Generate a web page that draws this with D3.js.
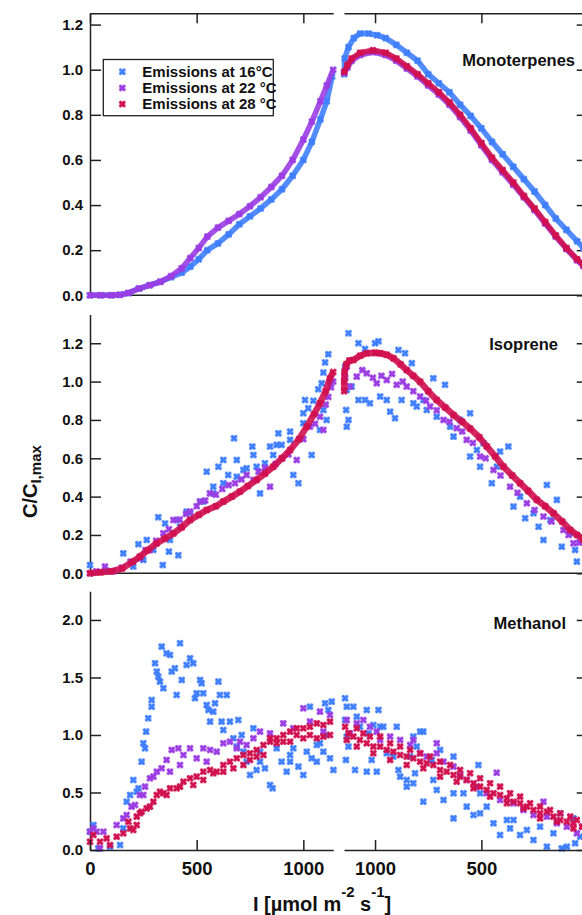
<!DOCTYPE html>
<html>
<head>
<meta charset="utf-8">
<script src="https://cdn.jsdelivr.net/npm/d3@7"></script>
<style>
  body { margin: 0; background: #fff; }
  text { font-family: "Liberation Sans", Arial, sans-serif; font-weight: bold; fill: #111; }
</style>
</head>
<body>
<div id="chart"></div>
<script>
// ---- data : [light intensity I, normalised emission C/C_I,max] ----
var seriesNames = ["Emissions at 16°C", "Emissions at 22 °C", "Emissions at 28 °C"];
var seriesColors = ["#3f7fff", "#9b3de3", "#d0104f"];

var panelNames = ["Monoterpenes", "Isoprene", "Methanol"];
var monoTicks = [0, 0.2, 0.4, 0.6, 0.8, 1.0, 1.2];
var isoTicks = [0, 0.2, 0.4, 0.6, 0.8, 1.0, 1.2];
var methTicks = [0, 0.5, 1.0, 1.5, 2.0];
var xTicksUp = [0, 500, 1000];
var xTicksDown = [1000, 500];

// Monoterpenes, light rising
var monoUp16 = [[0,0],[50,0],[100,0],[140,0.002],[180,0.01],[230,0.03],[280,0.045],[330,0.06],[380,0.08],[430,0.1],[470,0.127],[510,0.16],[550,0.2],[600,0.23],[650,0.27],[700,0.315],[750,0.35],[800,0.385],[850,0.425],[900,0.47],[950,0.53],[1000,0.6],[1040,0.68],[1080,0.78],[1110,0.86],[1135,0.97]];
var monoUp22 = [[0,0],[50,0],[100,0],[140,0.002],[180,0.01],[230,0.03],[280,0.045],[330,0.06],[380,0.085],[430,0.12],[470,0.165],[510,0.21],[550,0.26],[600,0.3],[650,0.33],[700,0.36],[750,0.395],[800,0.435],[850,0.48],[900,0.53],[950,0.6],[1000,0.69],[1040,0.77],[1080,0.86],[1110,0.93],[1140,1.0]];
// Monoterpenes, light falling
var monoDown16 = [[1145,0.98],[1143,1.05],[1125,1.1],[1100,1.14],[1070,1.16],[1030,1.16],[990,1.153],[950,1.14],[900,1.11],[850,1.075],[800,1.04],[750,0.98],[700,0.94],[650,0.9],[600,0.845],[550,0.795],[500,0.74],[450,0.68],[400,0.625],[350,0.57],[300,0.515],[250,0.46],[200,0.4],[150,0.34],[100,0.29],[50,0.24],[20,0.21]];
var monoDown22 = [[1145,0.985],[1130,1.01],[1110,1.04],[1070,1.065],[1010,1.078],[950,1.065],[900,1.04],[850,1.005],[800,0.97],[750,0.93],[700,0.89],[650,0.845],[600,0.79],[550,0.73],[500,0.665],[450,0.6],[400,0.545],[350,0.49],[300,0.435],[250,0.378],[200,0.318],[150,0.26],[100,0.205],[50,0.155],[20,0.13]];
var monoDown28 = [[1145,0.99],[1130,1.02],[1110,1.05],[1070,1.075],[1010,1.086],[950,1.075],[900,1.05],[850,1.015],[800,0.98],[750,0.94],[700,0.9],[650,0.855],[600,0.8],[550,0.74],[500,0.675],[450,0.61],[400,0.555],[350,0.5],[300,0.44],[250,0.385],[200,0.325],[150,0.265],[100,0.21],[50,0.16],[20,0.135]];

// Isoprene, light rising
var isoUp16 = [[0,0.043],[78,0.013],[156,0.104],[203,0.035],[227,0.152],[250,0.07],[266,0.174],[297,0.122],[320,0.292],[341,0.043],[352,0.26],[370,0.113],[375,0.174],[406,0.278],[414,0.094],[422,0.243],[453,0.322],[469,0.313],[516,0.374],[531,0.374],[547,0.53],[578,0.452],[578,0.417],[602,0.556],[625,0.591],[625,0.47],[648,0.513],[675,0.704],[688,0.591],[688,0.504],[719,0.539],[734,0.548],[761,0.661],[766,0.617],[781,0.556],[797,0.417],[820,0.574],[844,0.661],[859,0.617],[875,0.67],[883,0.73],[898,0.67],[938,0.739],[938,0.696],[953,0.513],[977,0.47],[1000,0.835],[1000,0.783],[1008,0.904],[1023,0.861],[1039,0.617],[1047,0.9],[1070,0.96],[1078,0.748],[1086,0.991],[1094,1.047],[1094,0.852],[1102,1.1],[1109,0.8],[1117,1.143],[1125,1.0]];
var isoUp22 = [[0,0.0],[30,0.01],[70,0.035],[110,0.01],[150,0.03],[190,0.06],[234,0.078],[260,0.12],[281,0.122],[310,0.17],[344,0.209],[370,0.23],[391,0.278],[420,0.28],[450,0.31],[469,0.322],[500,0.35],[516,0.374],[540,0.38],[562,0.417],[590,0.41],[620,0.44],[650,0.46],[680,0.47],[710,0.49],[734,0.513],[766,0.487],[790,0.53],[820,0.55],[844,0.452],[870,0.57],[900,0.6],[930,0.62],[969,0.591],[1000,0.7],[1031,0.765],[1055,0.78],[1078,0.817],[1094,0.748],[1105,0.88],[1117,0.92],[1130,0.97],[1140,1.0]];
var isoUp28 = [[0,0.0],[50,0.005],[100,0.01],[150,0.025],[200,0.06],[234,0.087],[270,0.12],[312,0.156],[350,0.18],[391,0.208],[430,0.24],[469,0.278],[510,0.305],[547,0.33],[590,0.35],[625,0.374],[665,0.4],[703,0.426],[740,0.455],[781,0.487],[820,0.52],[859,0.556],[900,0.6],[938,0.643],[980,0.7],[1016,0.765],[1050,0.83],[1078,0.887],[1105,0.95],[1125,1.017],[1140,1.05]];
// Isoprene, light falling
var isoDown16 = [[1125,1.252],[1141,1.078],[1133,0.956],[1125,0.8],[1133,0.765],[1136,0.852],[1110,0.974],[1078,1.2],[1047,1.17],[1000,1.2],[984,1.21],[1078,0.904],[1047,0.904],[1024,0.887],[976,0.922],[945,0.904],[929,0.843],[906,0.809],[890,1.165],[859,1.148],[875,0.904],[827,1.096],[820,0.887],[804,0.87],[757,0.852],[726,1.017],[773,0.904],[710,0.817],[671,0.983],[647,0.765],[631,0.713],[600,0.8],[553,0.835],[553,0.609],[521,0.643],[506,0.556],[490,0.678],[451,0.47],[427,0.556],[412,0.635],[373,0.661],[349,0.348],[318,0.4],[294,0.287],[255,0.313],[231,0.243],[208,0.174],[192,0.461],[176,0.278],[145,0.383],[122,0.139],[82,0.209],[59,0.122],[51,0.061]];
var isoDown22 = [[1140,1.02],[1133,1.078],[1118,0.974],[1086,1.026],[1060,1.06],[1039,1.043],[1010,1.02],[992,0.991],[970,1.03],[945,1.008],[920,1.04],[898,0.983],[870,1.0],[851,0.974],[820,0.95],[788,0.922],[760,0.9],[741,0.87],[710,0.85],[678,0.8],[650,0.79],[616,0.757],[590,0.74],[569,0.696],[540,0.68],[506,0.609],[480,0.6],[443,0.539],[410,0.51],[365,0.452],[330,0.42],[286,0.365],[250,0.33],[208,0.296],[170,0.27],[114,0.226],[90,0.2],[67,0.157],[40,0.16]];
var isoDown28 = [[1145,0.95],[1145,1.0],[1143,1.05],[1135,1.09],[1120,1.11],[1102,1.113],[1070,1.135],[1039,1.148],[1000,1.15],[976,1.148],[945,1.14],[914,1.122],[880,1.09],[851,1.06],[820,1.03],[788,0.999],[750,0.95],[710,0.904],[670,0.865],[631,0.826],[590,0.79],[553,0.755],[510,0.71],[474,0.661],[435,0.61],[396,0.556],[355,0.51],[318,0.47],[280,0.43],[239,0.383],[200,0.35],[161,0.313],[120,0.27],[82,0.226],[50,0.2],[20,0.175]];

// Methanol, light rising
var methUp16 = [[16,0.217],[0,0.159],[39,0.014],[94,0.029],[141,0.043],[156,0.188],[172,0.42],[188,0.478],[203,0.609],[227,0.536],[219,0.507],[242,0.768],[250,0.928],[258,0.884],[263,1.029],[273,1.145],[289,1.246],[289,1.304],[305,1.623],[313,1.551],[320,1.507],[328,1.464],[336,1.768],[344,1.406],[359,1.71],[375,1.696],[383,1.551],[398,1.58],[406,1.348],[422,1.797],[430,1.478],[453,1.609],[469,1.667],[484,1.623],[492,1.32],[500,1.362],[516,1.478],[523,1.449],[531,1.362],[547,1.261],[555,1.217],[563,1.116],[578,1.203],[586,1.275],[602,1.464],[609,1.348],[617,1.116],[625,1.043],[641,1.348],[656,1.116],[672,0.971],[688,0.899],[695,1.13],[711,1.0],[719,0.855],[734,0.768],[750,0.652],[766,1.058],[781,0.696],[797,0.855],[797,0.768],[820,0.71],[844,0.565],[856,0.536],[875,0.884],[898,0.768],[922,0.681],[938,0.826],[938,0.768],[953,0.884],[977,0.725],[1000,0.652],[1016,0.855],[1031,1.246],[1039,0.797],[1063,0.768],[1063,0.913],[1078,0.928],[1094,0.855],[1102,1.275],[1109,1.0],[1117,1.217],[1125,0.797],[1133,1.29],[1141,0.696]];
var methUp22 = [[0,0.159],[16,0.188],[31,0.159],[47,0.014],[63,0.159],[125,0.217],[156,0.275],[172,0.304],[195,0.377],[211,0.391],[234,0.478],[250,0.478],[258,0.551],[281,0.623],[297,0.638],[313,0.681],[336,0.71],[359,0.783],[375,0.681],[383,0.87],[414,0.884],[422,0.739],[438,0.826],[469,0.884],[500,0.797],[531,0.884],[547,0.768],[563,0.87],[594,0.855],[625,0.928],[656,0.942],[688,0.884],[703,0.942],[734,0.913],[766,0.971],[797,1.029],[844,1.014],[906,1.101],[953,1.058],[1000,1.232],[1031,1.116],[1078,1.203],[1094,1.029],[1125,1.174]];
var methUp28 = [[0,0.072],[16,0.13],[47,0.072],[78,0.101],[94,0.043],[125,0.116],[156,0.145],[180,0.246],[188,0.188],[203,0.174],[219,0.29],[219,0.217],[234,0.319],[242,0.333],[266,0.362],[281,0.377],[297,0.42],[313,0.478],[328,0.507],[344,0.493],[359,0.478],[375,0.536],[406,0.536],[422,0.551],[438,0.594],[469,0.623],[484,0.565],[500,0.638],[531,0.681],[531,0.609],[563,0.696],[578,0.667],[594,0.681],[625,0.739],[625,0.681],[656,0.768],[672,0.71],[688,0.797],[719,0.826],[719,0.739],[750,0.841],[750,0.783],[781,0.87],[781,0.812],[813,0.913],[813,0.826],[844,0.942],[844,0.971],[875,0.971],[875,0.928],[906,1.0],[906,0.942],[938,1.029],[938,0.942],[969,1.058],[969,1.0],[1000,1.058],[1000,0.971],[1031,1.072],[1031,1.0],[1063,1.101],[1063,0.971],[1094,1.087],[1094,0.986],[1125,1.116],[1125,1.0]];
// Methanol, light falling
var methDown16 = [[1141,1.319],[1133,1.246],[1141,1.13],[1133,0.986],[1137,0.783],[1125,0.899],[1102,1.246],[1086,1.159],[1071,1.072],[1094,0.696],[1039,1.217],[1031,1.014],[1008,1.087],[984,1.217],[976,1.072],[961,1.072],[945,0.841],[992,0.681],[1039,0.681],[1016,0.783],[898,1.072],[914,0.812],[890,0.696],[851,0.609],[882,0.638],[820,0.986],[788,1.029],[773,1.029],[804,0.899],[835,0.812],[851,0.551],[820,0.58],[812,0.667],[773,0.42],[733,0.783],[726,0.609],[710,0.522],[694,0.87],[678,0.435],[631,0.275],[631,0.493],[631,0.812],[584,0.493],[569,0.377],[537,0.304],[514,0.739],[506,0.319],[506,0.493],[475,0.377],[443,0.232],[412,0.13],[380,0.261],[365,0.188],[349,0.261],[318,0.13],[286,0.174],[255,0.087],[224,0.203],[192,0.029],[161,0.145],[129,0.319],[122,0.014],[98,0.029],[67,0.275],[59,0.058],[35,0.116]];
var methDown22 = [[1133,1.13],[1118,1.014],[1086,1.101],[1055,1.13],[1024,1.072],[992,1.029],[976,0.957],[929,0.986],[882,0.957],[835,0.913],[820,0.957],[788,0.841],[757,0.812],[710,0.841],[710,0.928],[678,0.768],[631,0.725],[600,0.652],[569,0.609],[522,0.551],[475,0.493],[428,0.672],[412,0.435],[349,0.406],[302,0.348],[255,0.304],[208,0.42],[192,0.29],[145,0.232],[98,0.203],[51,0.145],[26,0.203]];
var methDown28 = [[1141,1.072],[1133,0.957],[1125,1.014],[1102,0.986],[1086,1.058],[1086,0.899],[1071,0.957],[1055,1.014],[1039,0.928],[1024,0.986],[1008,0.899],[1008,0.841],[976,0.899],[976,0.986],[945,0.87],[929,0.928],[929,0.783],[914,0.855],[882,0.826],[882,0.899],[851,0.812],[851,0.739],[835,0.87],[820,0.797],[788,0.768],[788,0.841],[773,0.71],[757,0.754],[741,0.812],[726,0.739],[694,0.696],[694,0.768],[694,0.638],[663,0.681],[647,0.739],[631,0.652],[616,0.594],[600,0.638],[600,0.696],[569,0.609],[553,0.667],[537,0.58],[537,0.536],[506,0.551],[506,0.623],[475,0.522],[459,0.58],[459,0.464],[443,0.493],[412,0.478],[412,0.551],[380,0.449],[380,0.406],[365,0.493],[349,0.42],[318,0.406],[318,0.464],[302,0.362],[286,0.377],[271,0.406],[255,0.348],[224,0.319],[224,0.377],[224,0.275],[192,0.333],[177,0.348],[161,0.29],[145,0.246],[129,0.261],[129,0.319],[98,0.246],[82,0.29],[67,0.232],[67,0.188],[51,0.261],[26,0.203]];

// ---- layout ----
var W = 582, H = 915;
var svg = d3.select("#chart").append("svg").attr("width", W).attr("height", H);

var xL = d3.scaleLinear().domain([0, 1140]).range([90, 333.2]);
var xR = d3.scaleLinear().domain([1146, 0]).range([344, 587.7]);

var panels = [
  { name: panelNames[0], max: 1.25, top: 13.3, bottom: 295.3, ticks: monoTicks, minor: 0.05,
    up: [monoUp16, monoUp22, null], down: [monoDown16, monoDown22, monoDown28],
    lines: [5.5, 5.5, 5.5], labelX: 575, labelY: 65.8 },
  { name: panelNames[1], max: 1.35, top: 314.5, bottom: 573.3, ticks: isoTicks, minor: 0.05,
    up: [isoUp16, isoUp22, isoUp28], down: [isoDown16, isoDown22, isoDown28],
    lines: [0, 0, 6.5], labelX: 558, labelY: 350 },
  { name: panelNames[2], max: 2.25, top: 591.2, bottom: 850, ticks: methTicks, minor: 0.1,
    up: [methUp16, methUp22, methUp28], down: [methDown16, methDown22, methDown28],
    lines: [0, 0, 0], labelX: 566, labelY: 629 }
];

function styleAxis(g) {
  g.selectAll("path, line").attr("stroke", "#222").attr("stroke-width", 1.5);
  g.selectAll("text").style("font-size", "15px").attr("fill", "#111");
}

function marker(g, x, y, color) {
  var m = g.append("g").attr("transform", "translate(" + x + "," + y + ")");
  m.append("rect").attr("x", -3.4).attr("y", -3.4).attr("width", 6.8).attr("height", 6.8)
    .attr("fill", color).attr("opacity", 0.35);
  m.append("path").attr("d", "M-2.6,-2.6L2.6,2.6M-2.6,2.6L2.6,-2.6")
    .attr("stroke", color).attr("stroke-width", 2.6).attr("fill", "none");
}

panels.forEach(function(p, pi) {
  var y = d3.scaleLinear().domain([0, p.max]).range([p.bottom, p.top]);
  var minorVals = d3.range(0, p.max + 1e-9, p.minor);

  // left axis
  var gl = svg.append("g").attr("transform", "translate(90,0)");
  gl.call(d3.axisLeft(y).tickValues(minorVals).tickSizeInner(-6).tickSizeOuter(0).tickFormat(""));
  gl.call(d3.axisLeft(y).tickValues(p.ticks).tickSizeInner(-11).tickSizeOuter(0).tickPadding(7)
    .tickFormat(d3.format(".1f")));
  styleAxis(gl);

  // right axis
  var gr = svg.append("g").attr("transform", "translate(587.7,0)");
  gr.call(d3.axisRight(y).tickValues(minorVals).tickSizeInner(-6).tickSizeOuter(0).tickFormat(""));
  gr.call(d3.axisRight(y).tickValues(p.ticks).tickSizeInner(-11).tickSizeOuter(0).tickFormat(""));
  styleAxis(gr);

  // zero line across both halves
  if (pi < 2) {
    svg.append("line").attr("x1", 90).attr("x2", 587.7).attr("y1", y(0)).attr("y2", y(0))
      .attr("stroke", "#222").attr("stroke-width", 1.5);
  }

  // data
  var g = svg.append("g");
  [0, 1, 2].forEach(function(s) {
    [[p.up[s], xL], [p.down[s], xR]].forEach(function(pair) {
      var data = pair[0], xs = pair[1];
      if (!data) return;
      if (p.lines[s]) {
        g.append("path").datum(data)
          .attr("d", d3.line().x(function(d) { return xs(d[0]); }).y(function(d) { return y(d[1]); }))
          .attr("fill", "none").attr("stroke", seriesColors[s]).attr("stroke-width", p.lines[s])
          .attr("stroke-linejoin", "round").attr("opacity", 0.9);
      }
      data.forEach(function(d) { marker(g, xs(d[0]), y(d[1]), seriesColors[s]); });
    });
  });

  svg.append("text").attr("x", p.labelX).attr("y", p.labelY).attr("text-anchor", "end")
    .style("font-size", "16.5px").text(p.name);
});

// top axis of first panel (ticks only)
var minorX = d3.range(0, 1101, 100);
[[xL, 13.3], [xR, 13.3]].forEach(function(a) {
  var g = svg.append("g").attr("transform", "translate(0," + a[1] + ")");
  g.call(d3.axisTop(a[0]).tickValues(minorX).tickSizeInner(-5).tickSizeOuter(0).tickFormat(""));
  g.call(d3.axisTop(a[0]).tickValues([0, 500, 1000]).tickSizeInner(-10).tickSizeOuter(0).tickFormat(""));
  styleAxis(g);
});

// bottom axis of last panel
[[xL, xTicksUp], [xR, xTicksDown]].forEach(function(a) {
  var g = svg.append("g").attr("transform", "translate(0,850)");
  g.call(d3.axisBottom(a[0]).tickValues(minorX).tickSizeInner(-5).tickSizeOuter(0).tickFormat(""));
  g.call(d3.axisBottom(a[0]).tickValues(a[1]).tickSizeInner(-10).tickSizeOuter(0).tickPadding(12)
    .tickFormat(d3.format("d")));
  styleAxis(g);
  g.selectAll("text").style("font-size", "18.5px");
});

// legend
var leg = svg.append("g");
leg.append("rect").attr("x", 103.3).attr("y", 59.5).attr("width", 170).attr("height", 56.2)
  .attr("fill", "#fff").attr("stroke", "#222").attr("stroke-width", 1.3);
seriesNames.forEach(function(n, i) {
  var cy = 71.7 + i * 16.2;
  marker(leg, 122.3, cy, seriesColors[i]);
  leg.append("text").attr("x", 142.3).attr("y", cy + 5.3).style("font-size", "15px").text(n);
});

// axis titles
var xt = svg.append("text").attr("x", 253).attr("y", 910.7).style("font-size", "20px");
xt.append("tspan").text("I [µmol m");
xt.append("tspan").attr("dy", -14).style("font-size", "15px").text("-2");
xt.append("tspan").attr("dy", 14).text(" s");
xt.append("tspan").attr("dy", -14).style("font-size", "15px").text("-1");
xt.append("tspan").attr("dy", 14).text("]");

var yt = svg.append("text").attr("transform", "translate(36.7,518) rotate(-90)").style("font-size", "20px");
yt.append("tspan").text("C/C");
yt.append("tspan").attr("dy", 4).style("font-size", "15px").text("I,max");
</script>
</body>
</html>
